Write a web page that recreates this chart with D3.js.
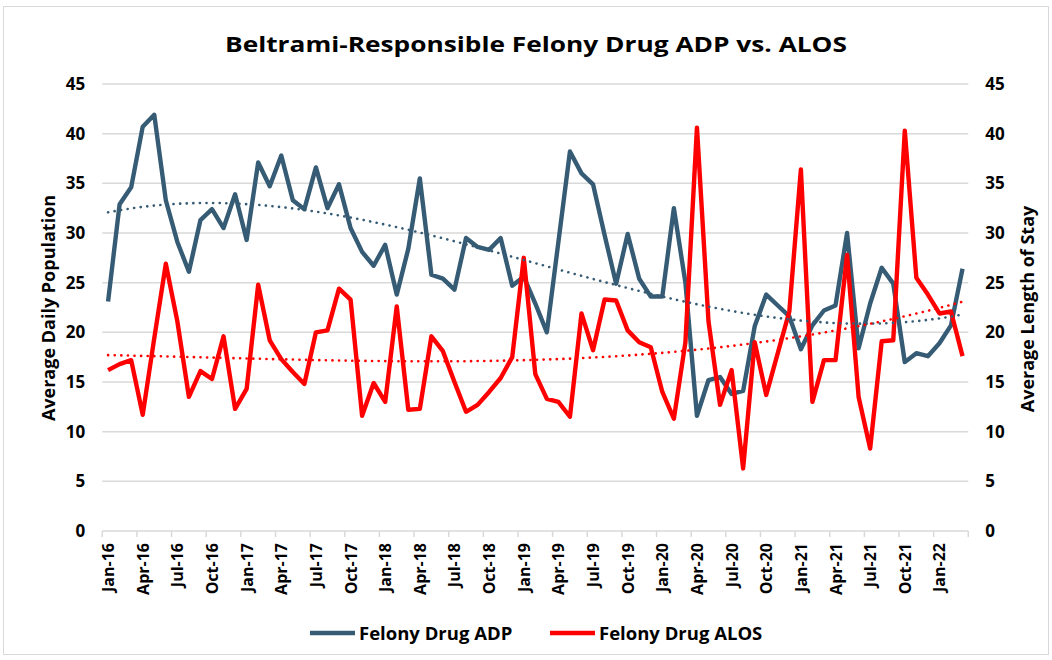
<!DOCTYPE html>
<html>
<head>
<meta charset="utf-8">
<script src="https://cdn.jsdelivr.net/npm/d3@7"></script>
<style>
  html,body{margin:0;padding:0;background:#fff;}
  svg{display:block;}
  text{font-family:"Open Sans","DejaVu Sans",sans-serif;font-weight:700;fill:#000;}
</style>
</head>
<body>
<svg id="chart" width="1052" height="660"></svg>
<script>
// ---------- DATA ----------
const years = ["16","17","18","19","20","21","22"];
const monthNames = ["Jan","Feb","Mar","Apr","May","Jun","Jul","Aug","Sep","Oct","Nov","Dec"];
const categories = [];
years.forEach(y => monthNames.forEach(m => categories.push(m + "-" + y)));
categories.length = 75; // Jan-16 .. Mar-22

const adp = [23.1,32.9,34.6,40.7,41.9,33.3,29.1,26.1,31.3,32.4,30.5,33.9,
             29.3,37.1,34.7,37.8,33.3,32.4,36.6,32.5,34.9,30.5,28.1,26.7,
             28.8,23.8,28.4,35.5,25.8,25.4,24.3,29.5,28.6,28.3,29.5,24.7,
             25.6,22.9,20.0,29.1,38.2,36.0,34.9,29.8,24.9,29.9,25.4,23.6,
             23.6,32.5,25.0,11.6,15.2,15.5,13.8,14.1,20.6,23.8,22.7,21.6,
             18.3,20.7,22.2,22.7,30.0,18.4,22.9,26.5,24.9,17.0,17.9,17.6,
             18.9,20.7,26.4];
const alos = [16.2,16.8,17.2,11.7,19.4,26.9,21.1,13.5,16.1,15.3,19.6,12.3,
              14.3,24.8,19.2,17.3,16.0,14.8,20.0,20.2,24.4,23.3,11.6,14.9,
              13.0,22.6,12.2,12.3,19.6,18.1,15.0,12.0,12.7,14.0,15.4,17.5,
              27.5,15.8,13.3,13.0,11.5,21.9,18.2,23.3,23.2,20.2,19.0,18.5,
              14.0,11.3,19.0,40.6,21.1,12.7,16.2,6.3,19.0,13.7,17.9,22.1,
              36.4,13.0,17.2,17.2,27.8,13.5,8.3,19.1,19.2,40.3,25.5,23.8,
              21.9,22.1,17.6];
const tickLabels = ["Jan-16","Apr-16","Jul-16","Oct-16","Jan-17","Apr-17","Jul-17","Oct-17",
                    "Jan-18","Apr-18","Jul-18","Oct-18","Jan-19","Apr-19","Jul-19","Oct-19",
                    "Jan-20","Apr-20","Jul-20","Oct-20","Jan-21","Apr-21","Jul-21","Oct-21","Jan-22"];
const yTicks = [0,5,10,15,20,25,30,35,40,45];
const seriesNames = ["Felony Drug ADP","Felony Drug ALOS"];
const colors = {adp:"#365b74", alos:"#ff0000"};

// ---------- cubic trendline (least squares, like Excel polynomial order 3) ----------
function polyFit(vals, order){
  const n = vals.length, c = (n-1)/2;
  const X = vals.map((v,i)=>(i-c)/c);
  const m = order+1;
  const A = Array.from({length:m},()=>new Array(m+1).fill(0));
  for(let k=0;k<n;k++){
    for(let r=0;r<m;r++){
      for(let s=0;s<m;s++) A[r][s]+=Math.pow(X[k],r+s);
      A[r][m]+=vals[k]*Math.pow(X[k],r);
    }
  }
  for(let p=0;p<m;p++){
    let mx=p; for(let r=p+1;r<m;r++) if(Math.abs(A[r][p])>Math.abs(A[mx][p])) mx=r;
    [A[p],A[mx]]=[A[mx],A[p]];
    for(let r=0;r<m;r++){ if(r===p) continue; const f=A[r][p]/A[p][p];
      for(let s=p;s<=m;s++) A[r][s]-=f*A[p][s]; }
  }
  const coef=A.map((row,i)=>row[m]/row[i]);
  return vals.map((v,i)=>{const t=X[i]; return coef.reduce((acc,cf,j)=>acc+cf*Math.pow(t,j),0);});
}
const adpTrend = polyFit(adp,3);
const alosTrend = polyFit(alos,3);

// ---------- LAYOUT ----------
const svg = d3.select("#chart");
const L=102.3, R=968.3, T=84, B=531;

svg.append("rect").attr("x",3.5).attr("y",6.5).attr("width",1045).attr("height",648)
  .attr("fill","#fff").attr("stroke","#d9d9d9").attr("stroke-width",1);

const x = d3.scaleBand().domain(categories).range([L,R]).paddingInner(0).paddingOuter(0);
const y = d3.scaleLinear().domain([0,45]).range([B,T]);
const y2 = d3.scaleLinear().domain([0,45]).range([B,T]);
const cx = c => x(c)+x.bandwidth()/2;

// title
svg.append("text").attr("x",536).attr("y",52).attr("text-anchor","middle")
  .style("font-size","22px").attr("textLength",622).attr("lengthAdjust","spacingAndGlyphs")
  .text("Beltrami-Responsible Felony Drug ADP vs. ALOS");

// gridlines
svg.append("g").selectAll("line").data(yTicks.filter(d=>d>0)).join("line")
  .attr("x1",L).attr("x2",R).attr("y1",d=>y(d)).attr("y2",d=>y(d))
  .attr("stroke","#d9d9d9").attr("stroke-width",1.5);

// left axis
const yAxis = d3.axisLeft(y).tickValues(yTicks).tickSize(0).tickPadding(17);
const gy = svg.append("g").attr("transform",`translate(${L},0)`).call(yAxis);
gy.select(".domain").remove();
gy.selectAll("text").style("font-size","17px").attr("fill","#000");

// right axis
const yAxis2 = d3.axisRight(y2).tickValues(yTicks).tickSize(0).tickPadding(17);
const gy2 = svg.append("g").attr("transform",`translate(${R},0)`).call(yAxis2);
gy2.select(".domain").remove();
gy2.selectAll("text").style("font-size","17px").attr("fill","#000");

// x axis line and ticks
svg.append("line").attr("x1",L).attr("x2",R).attr("y1",B).attr("y2",B)
  .attr("stroke","#d9d9d9").attr("stroke-width",1.5);
const tickPos = categories.filter((c,i)=>i%3===0).map(c=>x(c)).concat([R]);
svg.append("g").selectAll("line").data(tickPos).join("line")
  .attr("x1",d=>d).attr("x2",d=>d).attr("y1",B).attr("y2",B+6)
  .attr("stroke","#d9d9d9").attr("stroke-width",1.5);

// x labels
svg.append("g").selectAll("text").data(tickLabels).join("text")
  .attr("transform",d=>`translate(${cx(d)+6},${B+12}) rotate(-90)`)
  .attr("text-anchor","end").style("font-size","16px").text(d=>d);

// axis titles
svg.append("text").attr("transform","translate(55,308) rotate(-90)").attr("text-anchor","middle")
  .style("font-size","18px").text("Average Daily Population");
svg.append("text").attr("transform","translate(1034,309) rotate(-90)").attr("text-anchor","middle")
  .style("font-size","18px").text("Average Length of Stay");

// lines
const line = d3.line().x((d,i)=>cx(categories[i])).y(d=>y(d));
const line2 = d3.line().x((d,i)=>cx(categories[i])).y(d=>y2(d));

svg.append("path").datum(adp).attr("d",line).attr("fill","none")
  .attr("stroke",colors.adp).attr("stroke-width",4.4).attr("stroke-linejoin","round");
svg.append("path").datum(alos).attr("d",line2).attr("fill","none")
  .attr("stroke",colors.alos).attr("stroke-width",4.4).attr("stroke-linejoin","round");

// trendlines
svg.append("path").datum(adpTrend).attr("d",line).attr("fill","none")
  .attr("stroke",colors.adp).attr("stroke-width",2.6).attr("stroke-linecap","round")
  .attr("stroke-dasharray","0.1 6.5");
svg.append("path").datum(alosTrend).attr("d",line2).attr("fill","none")
  .attr("stroke",colors.alos).attr("stroke-width",2.6).attr("stroke-linecap","round")
  .attr("stroke-dasharray","0.1 6.5");

// legend
const leg = [{name:seriesNames[0],color:colors.adp,x:310},{name:seriesNames[1],color:colors.alos,x:550}];
const lg = svg.append("g").selectAll("g").data(leg).join("g");
lg.append("line").attr("x1",d=>d.x).attr("x2",d=>d.x+45).attr("y1",633).attr("y2",633)
  .attr("stroke",d=>d.color).attr("stroke-width",4.5);
lg.append("text").attr("x",d=>d.x+49).attr("y",639.5).style("font-size","18.5px").text(d=>d.name);
</script>
</body>
</html>
